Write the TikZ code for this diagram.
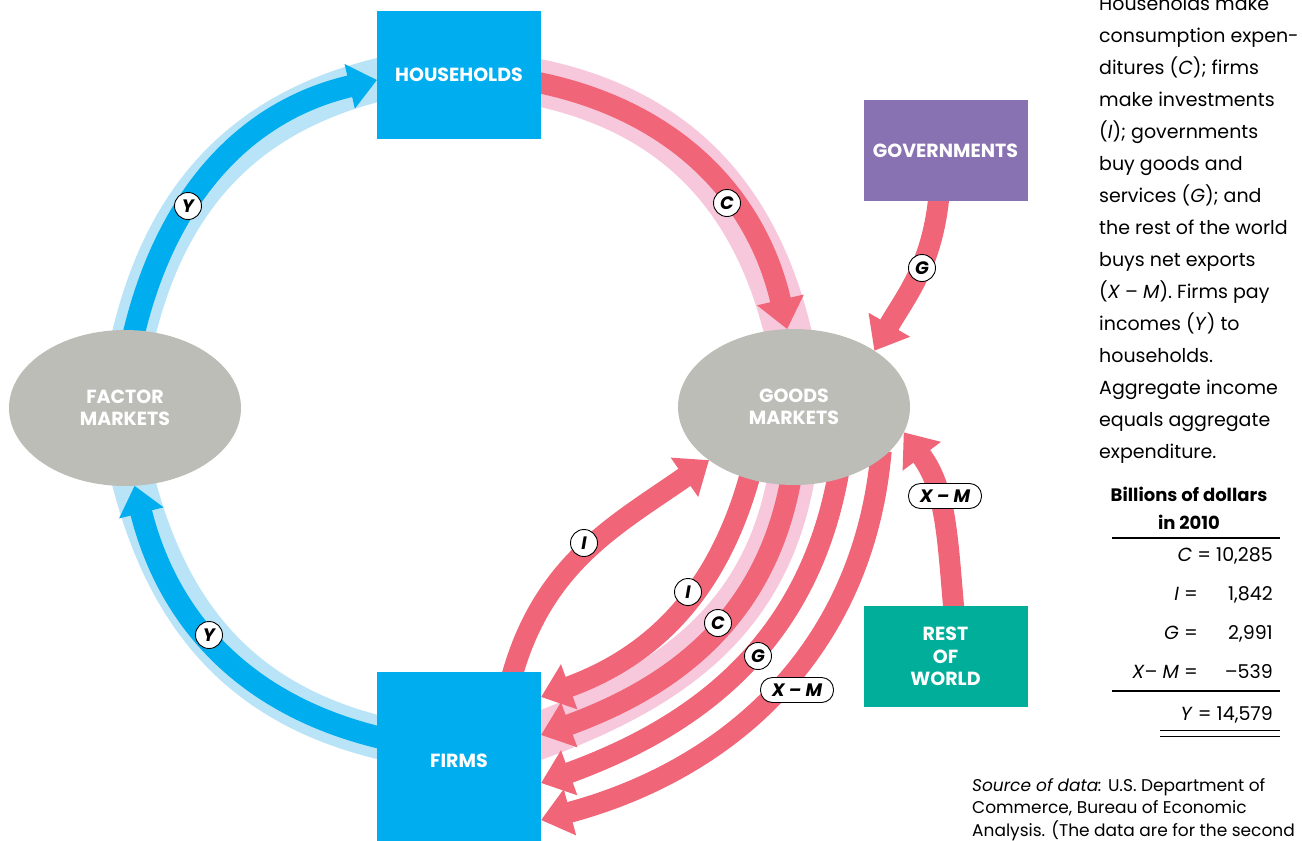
\documentclass[tikz,border=0pt]{standalone}
\usepackage{fontspec}
\setmainfont{Poppins}
\usepackage{xcolor}
\usetikzlibrary{arrows.meta, positioning, shapes.geometric}

\definecolor{hhblue}{RGB}{0,174,239}
\definecolor{ltblue}{RGB}{185,228,248}
\definecolor{gvpurple}{RGB}{137,114,178}
\definecolor{rwteal}{RGB}{0,174,154}
\definecolor{mkgray}{RGB}{188,189,182}
\definecolor{flowred}{RGB}{240,101,120}
\definecolor{flowpink}{RGB}{247,200,220}

\pgfdeclarelayer{flows}
\pgfsetlayers{flows,main}

\begin{document}
\begin{tikzpicture}[x=1pt, y=1pt]
  \tikzset{
    sector/.style={rectangle, minimum width=164pt, inner sep=0pt, outer sep=0pt,
                   text=white, align=center, font=\bfseries\fontsize{19}{22.5}\selectfont},
    market/.style={ellipse, fill=mkgray, minimum width=232pt, minimum height=156pt,
                   inner sep=0pt, outer sep=0pt, text=white, align=center,
                   font=\bfseries\fontsize{19}{22.5}\selectfont},
    yband/.style={draw=ltblue, line width=43pt, shorten <=-10pt, shorten >=-10pt},
    yflow/.style={draw=hhblue, line width=22pt, shorten <=-8pt,
                  -{Triangle[width=44pt,length=28pt]}},
    cband/.style={draw=flowpink, line width=47pt, shorten <=-10pt, shorten >=-10pt},
    rflow/.style={draw=flowred, line width=21pt, shorten <=-8pt,
                  -{Triangle[width=46pt,length=30pt]}},
    tag/.style={circle, draw=black, line width=0.9pt, fill=white, inner sep=0pt,
                minimum size=27pt, font=\bfseries\itshape\fontsize{18}{18}\selectfont},
    pill/.style={tag, rectangle, rounded corners=12pt, minimum width=73pt, minimum height=25pt},
    note/.style={align=left, inner sep=0pt, font=\fontsize{19}{32}\selectfont}
  }
  \useasboundingbox (0,0) rectangle (1302,-841);

  % sectors and markets
  \node[sector, fill=hhblue, minimum height=128pt] (hh) at (459,-75) {HOUSEHOLDS};
  \node[sector, fill=gvpurple, minimum height=101pt] (gv) at (945.5,-150.5) {GOVERNMENTS};
  \node[sector, fill=hhblue, minimum height=178pt] (fr) at (459,-761) {FIRMS};
  \node[sector, fill=rwteal, minimum height=101pt] (rw) at (945.5,-656.5) {REST\\OF\\WORLD};
  \node[market] (fm) at (125,-408) {FACTOR\\MARKETS};
  \node[market] (gm) at (794,-407) {GOODS\\MARKETS};

  \begin{pgfonlayer}{flows}
    % income loop
    \draw[yband] (fm.83) to[out=77,in=193] ([yshift=-5pt]hh.west);
    \draw[yband] ([yshift=24pt]fr.west) to[out=167,in=284] (fm.-83);
    \draw[cband] ([yshift=-8pt]hh.east) to[out=-11,in=103] (gm.95);
    \draw[cband] (gm.-93) to[out=-100,in=20] ([yshift=26pt]fr.east);
    \draw[yflow] (fm.83) to[out=77,in=193] ([yshift=-5pt]hh.west);
    \draw[yflow] ([yshift=24pt]fr.west) to[out=167,in=284] (fm.-83);
    \draw[rflow] ([yshift=-8pt]hh.east) to[out=-11,in=103] (gm.95);
    % expenditure flows
    \draw[rflow] ([xshift=-7pt]gv.south) to[out=-95,in=60] (gm.35);
    \draw[rflow] ([xshift=8pt]rw.north) to[out=95,in=-53] (gm.-13);
    \draw[rflow] ([xshift=54pt]fr.north) to[out=75,in=215] (gm.212);
    \draw[rflow] (gm.-122) to[out=-105,in=20] ([yshift=64pt]fr.east);
    \draw[rflow] (gm.-93) to[out=-100,in=20] ([yshift=26pt]fr.east);
    \draw[rflow] (gm.-59) to[out=-100,in=20] ([yshift=-22pt]fr.east);
    \draw[rflow] (gm.-31) to[out=-95,in=15] ([yshift=-59pt]fr.east);
  \end{pgfonlayer}

  % flow tags
  \node[tag] (ytop) at (188,-206) {Y};
  \node[tag] (ybot) at (209,-635) {Y};
  \node[tag] (ctop) at (727,-203) {C};
  \node[tag] (gtop) at (922,-268) {G};
  \node[pill] (xmup) at (945,-496) {X -- M};
  \node[tag] (iup) at (584,-543) {I};
  \node[tag] (idn) at (688,-592) {I};
  \node[tag] (cdn) at (718,-623) {C};
  \node[tag] (gdn) at (758,-656) {G};
  \node[pill] (xmdn) at (797,-690) {X -- M};

  % caption and data
  \node[note, anchor=base west] (cap) at (1099,-458) {Households make\\consumption expen-\\ditures (\textit{C}); firms\\make investments\\(\textit{I}); governments\\buy goods and\\services (\textit{G}); and\\the rest of the world\\buys net exports\\(\textit{X} -- \textit{M}). Firms pay\\incomes (\textit{Y}) to\\households.\\Aggregate income\\equals aggregate\\expenditure.};
  \node[note, align=center, anchor=base, font=\bfseries\fontsize{18}{28}\selectfont] (head) at (1189,-529) {Billions of dollars\\in 2010};
  \draw[line width=1.3pt] (1112,-538) -- (1280,-538);
  \node[note, anchor=base east] (cval) at (1273,-561) {\textit{C} = 10,285};
  \node[note, anchor=base east] (ilbl) at (1198,-600) {\textit{I} =};
  \node[note, anchor=base east] (ival) at (1273,-600) {1,842};
  \node[note, anchor=base east] (glbl) at (1198,-639) {\textit{G} =};
  \node[note, anchor=base east] (gval) at (1273,-639) {2,991};
  \node[note, anchor=base east] (xlbl) at (1198,-678) {\textit{X}-- \textit{M} =};
  \node[note, anchor=base east] (xval) at (1273,-678) {--539};
  \draw[line width=1.3pt] (1112,-691) -- (1280,-691);
  \node[note, anchor=base east] (yval) at (1273,-720) {\textit{Y} = 14,579};
  \draw[line width=1pt] (1160,-730) -- (1280,-730);
  \draw[line width=1pt] (1160,-736) -- (1280,-736);
  \node[note, anchor=base west, font=\fontsize{17}{22.5}\selectfont] (src) at (972,-836) {\textit{Source of data:} U.S. Department of\\Commerce, Bureau of Economic\\Analysis. (The data are for the second};
\end{tikzpicture}
\end{document}
